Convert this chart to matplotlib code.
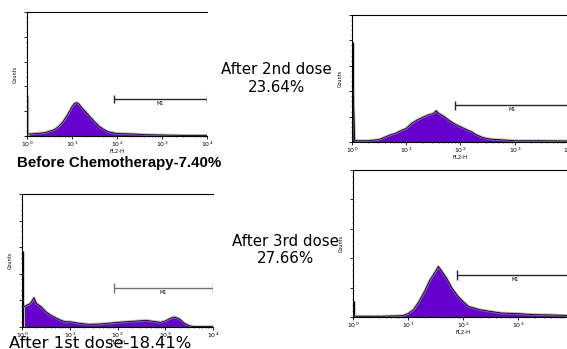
import numpy as np
import matplotlib.pyplot as plt
from matplotlib.ticker import LogLocator, NullFormatter, MultipleLocator

# channel positions (log10 of FL2-H) and counts for each sample
before_x = [0.0, 0.05, 0.2, 0.4, 0.6, 0.7, 0.8, 0.9, 1.0, 1.05, 1.1, 1.15, 1.2, 1.3, 1.4,
            1.5, 1.6, 1.7, 1.8, 1.9, 2.0, 2.2, 2.4, 2.6, 3.0, 3.5, 4.0]
before_y = [33, 1.6, 2.0, 2.7, 5.0, 7.5, 11.5, 17, 23.7, 26, 27, 26, 23.7, 19.6, 15.6,
            11.6, 8.0, 5.4, 3.5, 2.7, 2.0, 1.8, 1.6, 1.1, 0.8, 0.5, 0.5]

dose2_x = [0.0, 0.02, 0.05, 0.3, 0.5, 0.6, 0.7, 0.8, 0.9, 1.0, 1.1, 1.2, 1.3, 1.4, 1.5,
           1.55, 1.6, 1.7, 1.8, 1.9, 2.0, 2.1, 2.2, 2.3, 2.4, 2.5, 2.6, 2.8, 3.0, 3.5, 4.0]
dose2_y = [79, 40, 1.0, 1.0, 2.0, 3.7, 5.5, 6.8, 8.9, 10.7, 14.7, 17.3, 19.4, 21.2, 22.5,
           24.6, 22.5, 20, 16.8, 14.1, 12, 10, 8.1, 5.5, 3.7, 2.6, 2.1, 1.6, 1.0, 1.0, 0.8]

dose1_x = [0.0, 0.05, 0.1, 0.15, 0.2, 0.25, 0.3, 0.4, 0.5, 0.6, 0.7, 0.8, 0.9, 1.0, 1.2,
           1.4, 1.6, 1.8, 2.0, 2.2, 2.4, 2.6, 2.8, 2.9, 3.0, 3.1, 3.2, 3.3, 3.4, 3.5, 3.6, 4.0]
dose1_y = [57, 15.3, 16.5, 17, 19, 22, 17.8, 15.3, 11.5, 9.0, 7.0, 5.3, 4.0, 4.0, 2.8,
           2.0, 2.2, 2.8, 3.5, 4.0, 4.5, 5.0, 4.0, 3.5, 4.5, 6.5, 7.5, 6.0, 2.8, 1.0, 0.3, 0.3]

dose3_x = [0.0, 0.05, 0.5, 0.9, 1.0, 1.1, 1.2, 1.3, 1.4, 1.5, 1.55, 1.6, 1.7, 1.8, 1.9,
           2.0, 2.1, 2.2, 2.3, 2.5, 2.7, 3.0, 3.3, 3.6, 4.0]
dose3_y = [11, 0.5, 0.5, 0.9, 2.3, 5.0, 10.6, 17.4, 25.3, 31, 34.4, 32, 26.5, 19.7, 14.5,
           10.6, 7.2, 6.1, 5.0, 3.8, 2.7, 2.3, 1.6, 1.4, 0.9]

marker_start = [1.93, 1.9, 1.93, 1.89]   # log10 position of M1 gate start
marker_level = [30, 29, 29.3, 28.6]

purple = '#6600cc'

fig = plt.figure(figsize=(5.67, 3.49), dpi=100)
axes = [fig.add_axes([0.0476, 0.6103, 0.3175, 0.355]),
        fig.add_axes([0.6208, 0.5931, 0.3827, 0.364]),
        fig.add_axes([0.0388, 0.0630, 0.3369, 0.381]),
        fig.add_axes([0.6226, 0.0917, 0.3880, 0.421])]
data = [(before_x, before_y), (dose2_x, dose2_y), (dose1_x, dose1_y), (dose3_x, dose3_y)]

for i, ax in enumerate(axes):
    lx, cy = data[i]
    x = 10 ** np.array(lx)
    y = np.array(cy)
    # first channel spike drawn as a thin line
    spike_col = '0.65' if i == 0 else 'k'
    ax.vlines(10 ** 0.02, 0, y[0], color=spike_col, lw=1.0)
    ax.fill_between(x[1:], y[1:], color=purple, lw=0)
    ax.plot(x[1:], y[1:], color='0.55', lw=2.0, alpha=0.6)
    ax.plot(x[1:], y[1:], color='k', lw=0.6)

    x0 = 10 ** marker_start[i]
    lvl = marker_level[i]
    mcol = '0.45' if i == 2 else '0.15'
    ax.hlines(lvl, x0, 1e4, color=mcol, lw=1.0)
    ax.vlines([x0, 1e4], lvl - 3.5, lvl + 3.5, color=mcol, lw=1.0)
    ax.text(10 ** ((marker_start[i] + 4) / 2), lvl - 1.5, 'M1', fontsize=3.5,
            ha='center', va='top')

    ax.set_xscale('log')
    ax.set_xlim(1, 1e4)
    ax.set_ylim(0, 100)
    ax.spines['right'].set_visible(False)
    for s in ['left', 'bottom', 'top']:
        ax.spines[s].set_linewidth(0.8)
    ax.xaxis.set_major_locator(LogLocator(base=10, numticks=5))
    ax.xaxis.set_minor_locator(LogLocator(base=10, subs=np.arange(2, 10), numticks=10))
    ax.xaxis.set_minor_formatter(NullFormatter())
    ax.yaxis.set_major_locator(MultipleLocator(20))
    ax.yaxis.set_minor_locator(MultipleLocator(4))
    ax.set_yticklabels([])
    ax.tick_params(axis='x', which='major', labelsize=4.5, length=2, width=0.6, pad=1)
    ax.tick_params(axis='x', which='minor', length=1, width=0.4)
    ax.tick_params(axis='y', which='major', length=2.5, width=0.6)
    ax.tick_params(axis='y', which='minor', length=1, width=0.4)
    ax.set_xlabel('FL2-H', fontsize=3.8, labelpad=0)
    ax.set_ylabel('Counts', fontsize=3.5, labelpad=1)

fig.text(0.030, 0.532, 'Before Chemotherapy-7.40%', fontsize=10.8, fontweight='bold',
         family='Liberation Sans', ha='left', va='center')
fig.text(0.016, 0.015, 'After 1st dose-18.41%', fontsize=11.8, ha='left', va='center')
fig.text(0.487, 0.775, 'After 2nd dose\n23.64%', fontsize=10.8, ha='center', va='center',
         linespacing=1.2)
fig.text(0.503, 0.284, 'After 3rd dose\n27.66%', fontsize=10.8, ha='center', va='center',
         linespacing=1.15)

plt.savefig('out.png', dpi=100)
